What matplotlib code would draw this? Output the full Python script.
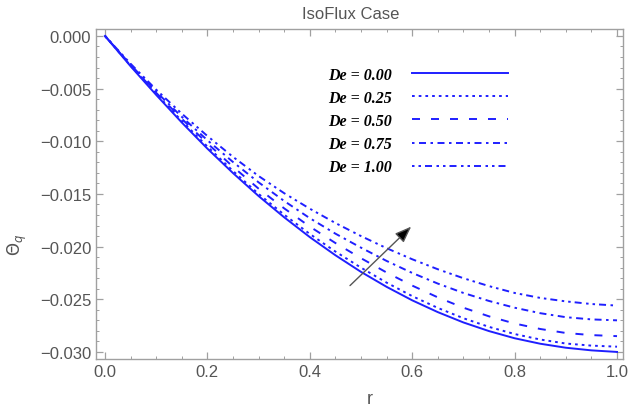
import matplotlib
matplotlib.use("Agg")
import matplotlib.pyplot as plt
from matplotlib.ticker import MultipleLocator

plt.rcParams['font.family'] = ['Liberation Sans', 'DejaVu Sans']
plt.rcParams['lines.scale_dashes'] = False

r = [0.0, 0.05, 0.1, 0.15, 0.2, 0.25, 0.3, 0.35, 0.4, 0.45, 0.5,
     0.55, 0.6, 0.65, 0.7, 0.75, 0.8, 0.85, 0.9, 0.95, 1.0]
theta_de000 = [0.0, -0.00288, -0.0056, -0.00822, -0.0107, -0.01302, -0.0152, -0.01722, -0.0191, -0.02082, -0.0224,
               -0.02382, -0.0251, -0.02622, -0.0272, -0.02802, -0.0287, -0.02922, -0.0296, -0.02985, -0.0300]
theta_de025 = [0.0, -0.00282, -0.0055, -0.00807, -0.0105, -0.01282, -0.0150, -0.01697, -0.0188, -0.02047, -0.0220,
               -0.02342, -0.0247, -0.02582, -0.0268, -0.02762, -0.0283, -0.02882, -0.0292, -0.0294, -0.0295]
theta_de050 = [0.0, -0.00277, -0.0054, -0.00787, -0.0102, -0.01242, -0.0145, -0.01637, -0.0181, -0.01966, -0.0211,
               -0.02246, -0.0237, -0.02482, -0.0258, -0.02662, -0.0273, -0.02782, -0.0282, -0.0284, -0.0285]
theta_de075 = [0.0, -0.00273, -0.0053, -0.00768, -0.0099, -0.01197, -0.0139, -0.01567, -0.0173, -0.01877, -0.0201,
               -0.02136, -0.0225, -0.02351, -0.0244, -0.02516, -0.0258, -0.02632, -0.0267, -0.02691, -0.0270]
theta_de100 = [0.0, -0.00264, -0.0051, -0.00738, -0.0095, -0.01148, -0.0133, -0.01493, -0.0164, -0.01776, -0.0190,
               -0.02015, -0.0212, -0.02215, -0.0230, -0.02375, -0.0244, -0.02487, -0.0252, -0.02545, -0.0256]
labels = ["De = 0.00", "De = 0.25", "De = 0.50", "De = 0.75", "De = 1.00"]
series = [theta_de000, theta_de025, theta_de050, theta_de075, theta_de100]

px = 0.72  # px -> pt at dpi 100
styles = [
    '-',
    (0, (2.7 * px, 4.0 * px)),
    (0, (8 * px, 11 * px)),
    (0, (2.5 * px, 4.5 * px, 7 * px, 4.5 * px)),
    (0, (2.5 * px, 4 * px, 2.5 * px, 4 * px, 7 * px, 4.5 * px)),
]

fig = plt.figure(figsize=(6.3, 4.1), dpi=100)
ax = fig.add_axes([96 / 630, 1 - 360 / 410, 527 / 630, 330 / 410])

blue = '#1f1fff'
for ys, lab, ls in zip(series, labels, styles):
    ax.plot(r, ys, color=blue, lw=1.4, ls=ls, label=lab)

ax.set_xlim(-0.0176, 1.0117)
ax.set_ylim(-0.03067, 0.00066)

frame_col = '#a0a0a0'
text_col = '#555555'
for s in ax.spines.values():
    s.set_color(frame_col)
    s.set_linewidth(1.0)

ax.xaxis.set_major_locator(MultipleLocator(0.2))
ax.xaxis.set_minor_locator(MultipleLocator(0.05))
ax.yaxis.set_major_locator(MultipleLocator(0.005))
ax.yaxis.set_minor_locator(MultipleLocator(0.001))
ax.tick_params(which='both', direction='in', top=True, right=True,
               color=frame_col, labelcolor=text_col, labelsize=12)
ax.tick_params(which='major', length=5, width=0.9)
ax.tick_params(which='minor', length=2.5, width=0.7)
ax.xaxis.set_major_formatter(matplotlib.ticker.FormatStrFormatter('%.1f'))
ax.yaxis.set_major_formatter(matplotlib.ticker.FuncFormatter(
    lambda v, p: ('%.3f' % v).replace('-', '\u2212') if abs(v) > 1e-12 else '0.000'))

ax.set_title('IsoFlux Case', color=text_col, fontsize=12, pad=8, x=0.483)
ax.set_xlabel('r', color=text_col, fontsize=13)
ax.xaxis.set_label_coords(0.52, -0.095)
ax.set_ylabel(r'$\Theta_q$', color=text_col, fontsize=12, rotation=90)
ax.yaxis.set_label_coords(-0.128, 0.35)

# arrow indicating increasing De
arrow_start = (0.4785, -0.0237)
arrow_end = (0.598, -0.0181)
ax.annotate('', xy=arrow_end, xytext=arrow_start,
            arrowprops=dict(arrowstyle='-|>,head_length=1.0,head_width=0.38',
                            color='#555555', fc='black', ec='#555555', lw=1.0,
                            shrinkA=0, shrinkB=0))

leg = ax.legend(loc='upper right', bbox_to_anchor=(0.797, 0.91), frameon=False,
                markerfirst=False, handlelength=6.0, handletextpad=1.25,
                labelspacing=0.45, borderpad=0,
                prop=dict(family='Liberation Serif', weight='bold', style='italic', size=11.5))
for t in leg.get_texts():
    t.set_color('black')

fig.savefig('out.png', dpi=100)
